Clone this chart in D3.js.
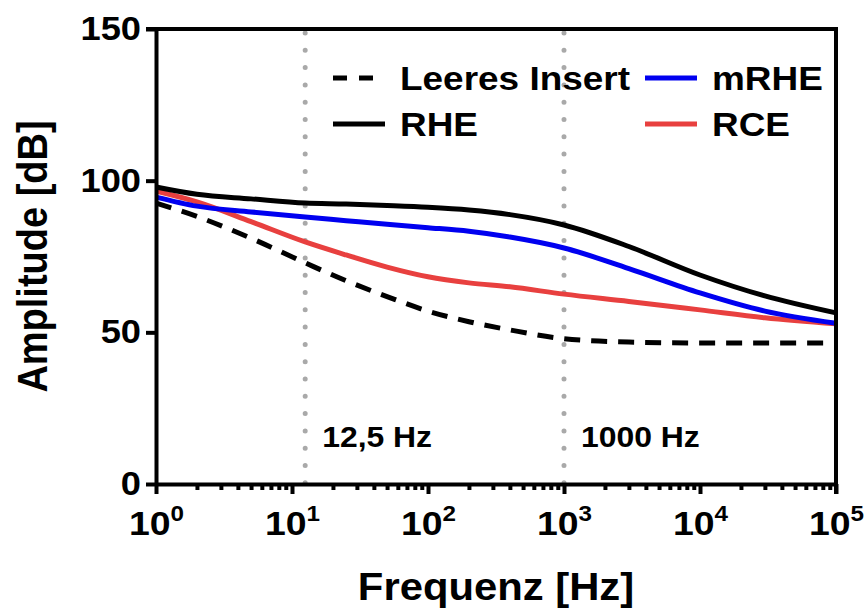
<!DOCTYPE html>
<html>
<head>
<meta charset="utf-8">
<script src="https://cdn.jsdelivr.net/npm/d3@7"></script>
<style>
body { margin: 0; background: #fff; }
svg { font-family: "Liberation Sans", Arial, sans-serif; font-weight: bold; }
.axis text { font-family: "Liberation Sans", Arial, sans-serif; font-weight: bold; fill: #000; }
.axis path, .axis line { stroke: #000; stroke-width: 4; }
</style>
</head>
<body>
<svg width="866" height="610"></svg>
<script>
// frequency grid (Hz) and amplitudes (dB)
var freqs        = [1, 2, 5, 12.5, 25, 50, 100, 200, 400, 1000, 3000, 10000, 30000, 100000];
var leeresInsert = [92.6, 88.2, 81.0, 72.9, 67.0, 61.8, 57.0, 53.5, 50.8, 47.9, 46.8, 46.5, 46.5, 46.5];
var rhe          = [97.9, 95.5, 94.0, 92.6, 92.3, 91.8, 91.2, 90.3, 88.8, 85.4, 78.3, 68.9, 62.0, 56.4];
var mrhe         = [94.6, 91.6, 89.7, 88.0, 86.8, 85.6, 84.5, 83.3, 81.4, 77.8, 71.0, 63.0, 57.0, 53.0];
var rce          = [96.6, 93.0, 86.5, 79.8, 75.5, 71.5, 68.3, 66.3, 65.0, 62.6, 60.2, 57.4, 54.8, 52.8];

var xTicks = [1, 10, 100, 1000, 10000, 100000];
var yTicks = [0, 50, 100, 150];
var markers = [12.5, 1000];
var markerLabels = ["12,5 Hz", "1000 Hz"];

var svg = d3.select("svg"),
    margin = {top: 29, right: 30, bottom: 126, left: 156},
    width = +svg.attr("width") - margin.left - margin.right,
    height = +svg.attr("height") - margin.top - margin.bottom,
    g = svg.append("g").attr("transform", "translate(" + margin.left + "," + margin.top + ")");

var x = d3.scaleLog().domain([1, 100000]).range([0, width]),
    y = d3.scaleLinear().domain([0, 150]).range([height, 0]);

var series = [
  {name: "Leeres Insert", values: leeresInsert, color: "#000", dash: "16,11"},
  {name: "RHE", values: rhe, color: "#000"},
  {name: "mRHE", values: mrhe, color: "#0000f0"},
  {name: "RCE", values: rce, color: "#e8403f"}
];

var line = d3.line()
    .curve(d3.curveMonotoneX)
    .x(function(d) { return x(d.f); })
    .y(function(d) { return y(d.v); });

// the text in the original is a bit wider than plain Arial
function stretch(sel, sx) {
  sel.each(function() {
    var t = d3.select(this),
        tx = +t.attr("x") || 0,
        ty = +t.attr("y") || 0;
    t.attr("x", 0).attr("y", 0)
      .attr("transform", "translate(" + tx + "," + ty + ") scale(" + sx + ",1)");
  });
}

// dotted marker lines
g.selectAll(".marker")
  .data(markers)
  .enter().append("line")
    .attr("class", "marker")
    .attr("x1", function(d) { return x(d); })
    .attr("x2", function(d) { return x(d); })
    .attr("y1", 4)
    .attr("y2", height)
    .attr("stroke", "#a9a9a9")
    .attr("stroke-width", 5)
    .attr("stroke-linecap", "round")
    .attr("stroke-dasharray", "0,17.3");

g.selectAll(".marker-label")
  .data(markers)
  .enter().append("text")
    .attr("class", "marker-label")
    .attr("x", function(d) { return x(d) + 17; })
    .attr("y", y(12.2))
    .style("font-size", "29px")
    .text(function(d, i) { return markerLabels[i]; })
    .call(stretch, 1.1);

// curves
var drawOrder = [0, 3, 2, 1];
g.selectAll(".curve")
  .data(drawOrder.map(function(i) { return series[i]; }))
  .enter().append("path")
    .attr("class", "curve")
    .attr("fill", "none")
    .attr("stroke", function(d) { return d.color; })
    .attr("stroke-width", 5)
    .attr("stroke-dasharray", function(d) { return d.dash || null; })
    .attr("d", function(d) {
      return line(d.values.map(function(v, i) { return {f: freqs[i], v: v}; }));
    });

// minor ticks on the log axis
var minorTicks = [];
for (var e = 0; e < 5; ++e) {
  for (var k = 2; k < 10; ++k) minorTicks.push(k * Math.pow(10, e));
}

g.append("g")
    .attr("class", "axis axis--minor")
    .attr("transform", "translate(0," + height + ")")
    .call(d3.axisBottom(x).tickValues(minorTicks).tickSize(6).tickFormat(""))
  .select(".domain").remove();

var gx = g.append("g")
    .attr("class", "axis axis--x")
    .attr("transform", "translate(0," + height + ")")
    .call(d3.axisBottom(x).tickValues(xTicks).tickSize(10).tickSizeOuter(0).tickPadding(10));

gx.selectAll(".tick text")
    .style("font-size", "34px")
    .attr("dy", "0.9em")
    .each(function(d) {
      var t = d3.select(this);
      t.text(null);
      t.append("tspan").text("10");
      t.append("tspan")
        .attr("dy", "-0.6em")
        .style("font-size", "22px")
        .text(Math.round(Math.log10(d)));
    })
    .call(stretch, 1.1);

var gy = g.append("g")
    .attr("class", "axis axis--y")
    .call(d3.axisLeft(y).tickValues(yTicks).tickSize(10).tickSizeOuter(0).tickPadding(5));

gy.selectAll(".tick text")
    .style("font-size", "33px")
    .call(stretch, 1.1);

// frame on top and right
g.append("path")
    .attr("d", "M-10,0H" + width + "V" + (height + 10))
    .attr("fill", "none")
    .attr("stroke", "#000")
    .attr("stroke-width", 4);

// axis titles
g.append("text")
    .attr("x", width / 2)
    .attr("y", height + 116)
    .attr("text-anchor", "middle")
    .style("font-size", "38px")
    .text("Frequenz [Hz]")
    .call(stretch, 1.1);

g.append("text")
    .attr("transform", "translate(-109," + (height / 2) + ") rotate(-90) scale(1,1.12)")
    .attr("text-anchor", "middle")
    .style("font-size", "38px")
    .text("Amplitude [dB]");

// legend: two columns, two rows
var legend = g.selectAll(".legend")
  .data(series)
  .enter().append("g")
    .attr("class", "legend")
    .attr("transform", function(d, i) {
      return "translate(" + (177 + Math.floor(i / 2) * 312) + "," + (49 + (i % 2) * 46) + ")";
    });

legend.append("line")
    .attr("x1", 0)
    .attr("x2", 52)
    .attr("stroke", function(d) { return d.color; })
    .attr("stroke-width", 5)
    .attr("stroke-dasharray", function(d) { return d.dash ? "14,12" : null; });

legend.append("text")
    .attr("x", 67)
    .attr("y", 0)
    .attr("dy", "0.36em")
    .style("font-size", "33px")
    .text(function(d) { return d.name; })
    .call(stretch, 1.12);
</script>
</body>
</html>
